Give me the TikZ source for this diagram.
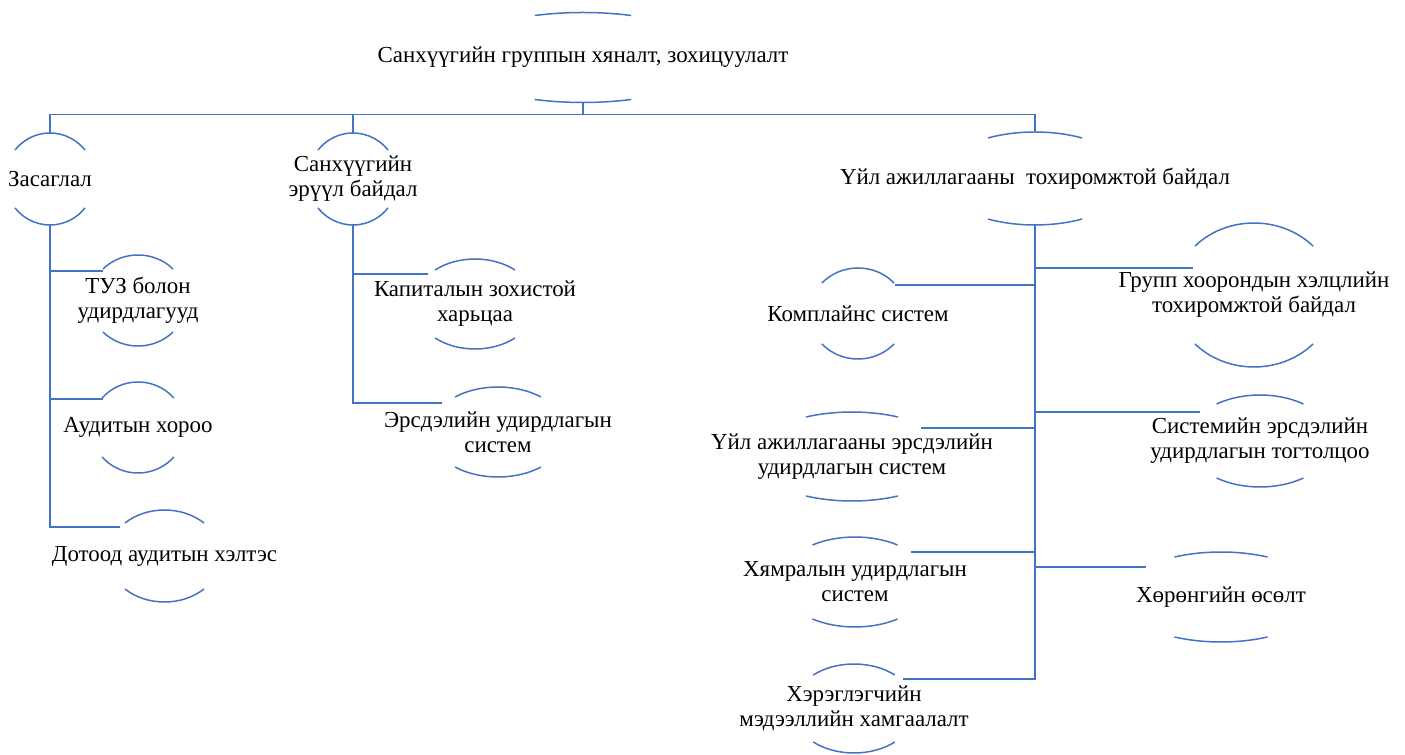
\documentclass[tikz,border=0pt]{standalone}
\usepackage{fontspec}
\setmainfont{Liberation Serif}
\newfontfamily\chartfont{Liberation Serif}
\usetikzlibrary{calc}
\definecolor{chartblue}{RGB}{68,114,196}
\tikzset{
  arcline/.style={draw=chartblue,line width=1.5bp},
  link/.style={draw=chartblue,line width=1.5bp},
  lbl/.style={align=center,inner sep=0pt,font=\chartfont\fontsize{23}{25}\selectfont},
}
% top and bottom arcs of an oval round a node: name, x radius, y radius, end angle
\newcommand\ovalarcs[4]{%
  \draw [arcline] ($(#1)+(#4:#2bp and #3bp)$) arc[start angle=#4,end angle=180-#4,x radius=#2bp,y radius=#3bp];
  \draw [arcline] ($(#1)+(180+#4:#2bp and #3bp)$) arc[start angle=180+#4,end angle=360-#4,x radius=#2bp,y radius=#3bp];
  \coordinate (#1-t) at ($(#1)+(0,#3bp)$);
  \coordinate (#1-b) at ($(#1)-(0,#3bp)$);
}
\begin{document}
\begin{tikzpicture}
    \useasboundingbox (0bp,0bp) rectangle (1405bp,755bp);
    %%
    \node (top) at (583.0bp,697.5bp) [lbl] {Санхүүгийн группын хяналт, зохицуулалт};
    \node (zas) at (50.0bp,576.0bp) [lbl] {Засаглал};
    \node (san) at (353.0bp,576.0bp) [lbl] {Санхүүгийн\\эрүүл байдал};
    \node (uil) at (1035.0bp,576.5bp) [lbl] {Үйл ажиллагааны~ тохиромжтой байдал};
    \node (tuz) at (138.0bp,454.5bp) [lbl] {ТУЗ болон\\удирдлагууд};
    \node (aud) at (138.0bp,327.5bp) [lbl] {Аудитын хороо};
    \node (dot) at (164.5bp,199.0bp) [lbl] {Дотоод аудитын хэлтэс};
    \node (kap) at (475.0bp,451.0bp) [lbl] {Капиталын зохистой\\харьцаа};
    \node (ers) at (498.0bp,323.0bp) [lbl] {Эрсдэлийн удирдлагын\\систем};
    \node (grp) at (1254.0bp,460.0bp) [lbl] {Групп хоорондын хэлцлийн\\тохиромжтой байдал};
    \node (kom) at (858.0bp,441.5bp) [lbl] {Комплайнс систем};
    \node (sys) at (1260.0bp,314.0bp) [lbl] {Системийн эрсдэлийн\\удирдлагын тогтолцоо};
    \node (hur) at (1221.0bp,158.0bp) [lbl] {Хөрөнгийн өсөлт};
    \node (uer) at (852.0bp,298.5bp) [lbl] {Үйл ажиллагааны эрсдэлийн\\удирдлагын систем};
    \node (hyam) at (855.0bp,173.0bp) [lbl] {Хямралын удирдлагын\\систем};
    \node (her) at (854.0bp,46.5bp) [lbl] {Хэрэглэгчийн\\мэдээллийн хамгаалалт};
    %%
    \ovalarcs{top}{134}{45}{68.9}
    \ovalarcs{zas}{45}{46}{39}
    \ovalarcs{san}{45}{46}{39}
    \ovalarcs{uil}{96}{46.5}{60.6}
    \ovalarcs{tuz}{48.5}{45.5}{43.8}
    \ovalarcs{aud}{47}{45.5}{40.4}
    \ovalarcs{dot}{56.7}{46}{45.8}
    \ovalarcs{kap}{61}{45}{49.1}
    \ovalarcs{ers}{68.4}{45}{51.1}
    \ovalarcs{grp}{80.5}{72}{42.8}
    \ovalarcs{kom}{48.5}{45.5}{42}
    \ovalarcs{sys}{73}{46}{53.5}
    \ovalarcs{hur}{101.5}{45}{62.7}
    \ovalarcs{uer}{100}{44.5}{62.6}
    \ovalarcs{hyam}{74.7}{45}{55.3}
    \ovalarcs{her}{62}{44.5}{48.8}
    %%
    \coordinate (tuz-in) at (103.0bp,484.0bp);
    \coordinate (aud-in) at (103.0bp,356.0bp);
    \coordinate (dot-in) at (120.0bp,228.0bp);
    \coordinate (kap-in) at (428.0bp,481.0bp);
    \coordinate (ers-in) at (442.0bp,352.0bp);
    \coordinate (grp-in) at (1193.0bp,487.0bp);
    \coordinate (kom-in) at (895.0bp,470.0bp);
    \coordinate (sys-in) at (1200.0bp,343.0bp);
    \coordinate (hur-in) at (1146.0bp,188.0bp);
    \coordinate (uer-in) at (921.0bp,327.0bp);
    \coordinate (hyam-in) at (911.0bp,203.0bp);
    \coordinate (her-in) at (903.0bp,76.0bp);
    %%
    \draw [link] (top-b) -- ++(0,-12bp) -| (zas-t);
    \draw [link] (top-b) -- ++(0,-12bp) -| (san-t);
    \draw [link] (top-b) -- ++(0,-12bp) -| (uil-t);
    \draw [link] (zas-b) |- (tuz-in);
    \draw [link] (zas-b) |- (aud-in);
    \draw [link] (zas-b) |- (dot-in);
    \draw [link] (san-b) |- (kap-in);
    \draw [link] (san-b) |- (ers-in);
    \draw [link] (uil-b) |- (grp-in);
    \draw [link] (uil-b) |- (kom-in);
    \draw [link] (uil-b) |- (sys-in);
    \draw [link] (uil-b) |- (uer-in);
    \draw [link] (uil-b) |- (hyam-in);
    \draw [link] (uil-b) |- (hur-in);
    \draw [link] (uil-b) |- (her-in);
    %
\end{tikzpicture}
\end{document}
